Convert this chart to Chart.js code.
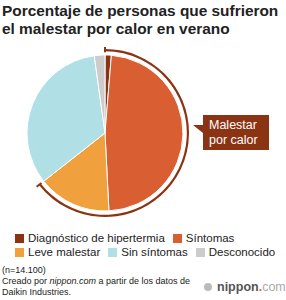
<!DOCTYPE html>
<html>
<head>
<meta charset="utf-8">
<script src="https://cdn.jsdelivr.net/npm/chart.js@4"></script>
<style>
  body { margin: 0; width: 286px; height: 300px; background: #fff; position: relative; overflow: hidden;
         font-family: "Liberation Sans", Arial, sans-serif; color: #222; }
  #title { position: absolute; left: 2px; top: 2px; font-size: 15.4px; font-weight: bold; line-height: 18px; color: #222; white-space: nowrap; }
  #chartBox { position: absolute; left: 19px; top: 47px; width: 172px; height: 172px; }
  #callout { position: absolute; left: 203px; top: 115px; width: 66px; height: 35px; background: #8b3414;
             color: #fff; font-size: 12.5px; line-height: 15px; padding: 3px 0 0 6px; box-sizing: border-box; }
  #callout:before { content: ""; position: absolute; left: -10px; top: 10px; border-style: solid;
                    border-width: 0 10px 8px 0; border-color: transparent #8b3414 transparent transparent; }
  #legend { position: absolute; left: 15px; top: 231px; width: 280px; font-size: 11.5px; line-height: 14px; white-space: nowrap; }
  .item { display: inline-block; margin-right: 8px; }
  .sw { display: inline-block; width: 9px; height: 9px; margin-right: 4px; vertical-align: -1px; }
  #notes { position: absolute; left: 2px; top: 265px; font-size: 9px; line-height: 11px; color: #222; white-space: nowrap; }
  #logo { position: absolute; left: 204px; top: 280px; font-size: 12.5px; font-weight: bold; color: #555; white-space: nowrap; }
  #logo b { color: #e0662c; }
  #logo span { color: #aaa; font-weight: normal; }
  #logo i { display: inline-block; width: 8px; height: 8px; border-radius: 50%; background: #bbb; margin-right: 5px; vertical-align: 0px; }
</style>
</head>
<body>
<div id="title">Porcentaje de personas que sufrieron<br>el malestar por calor en verano</div>
<div id="chartBox"><canvas id="pie"></canvas></div>
<div id="callout">Malestar<br>por calor</div>
<div id="legend"></div>
<div id="notes">(n=14.100)<br>Creado por <i>nippon.com</i> a partir de los datos de<br>Daikin Industries.</div>
<div id="logo"><i></i>nippon<b>.</b><span>com</span></div>
<script>
const categories = ['Diagnóstico de hipertermia', 'Síntomas', 'Leve malestar', 'Sin síntomas', 'Desconocido']
const values = [1.3, 47.9, 15.2, 33.4, 2.2]
const colors = ['#8b3414', '#d95f33', '#f0a03c', '#b0e0e6', '#cccccc']
// first three categories make up "Malestar por calor"
const groupValues = [64.4, 35.6]

const ringColor = '#8b3414'

let legend = document.getElementById('legend')
categories.forEach((c, i) => {
    let it = document.createElement('span')
    it.className = 'item'
    it.innerHTML = `<span class="sw" style="background:${colors[i]}"></span>${c}`
    legend.appendChild(it)
    if (i == 1) legend.appendChild(document.createElement('br'))
})

// small radial ticks at both ends of the outer ring
const ringTicks = {
    id: 'ringTicks',
    afterDatasetsDraw(chart) {
        let arc = chart.getDatasetMeta(0).data[0]
        if (!arc) return
        let ctx = chart.ctx
        ctx.save()
        ctx.strokeStyle = ringColor
        ctx.lineWidth = 2
        ;[arc.startAngle, arc.endAngle].forEach(a => {
            ctx.beginPath()
            ctx.moveTo(arc.x + Math.cos(a) * (arc.innerRadius - 1), arc.y + Math.sin(a) * (arc.innerRadius - 1))
            ctx.lineTo(arc.x + Math.cos(a) * (arc.outerRadius + 3), arc.y + Math.sin(a) * (arc.outerRadius + 3))
            ctx.stroke()
        })
        ctx.restore()
    }
}

new Chart(document.getElementById('pie').getContext('2d'), {
    type: 'doughnut',
    data: {
        labels: categories,
        datasets: [
            { data: groupValues, backgroundColor: [ringColor, 'rgba(0,0,0,0)'], borderWidth: 0, weight: 2.2 },
            { data: groupValues, backgroundColor: ['rgba(0,0,0,0)', 'rgba(0,0,0,0)'], borderWidth: 0, weight: 3.8 },
            { data: values, backgroundColor: colors, borderColor: '#fff', borderWidth: 1, weight: 78 }
        ]
    },
    options: {
        responsive: true,
        maintainAspectRatio: false,
        animation: false,
        cutout: 0,
        layout: { padding: 2 },
        plugins: { legend: { display: false }, tooltip: { enabled: false } }
    },
    plugins: [ringTicks]
})
</script>
</body>
</html>
